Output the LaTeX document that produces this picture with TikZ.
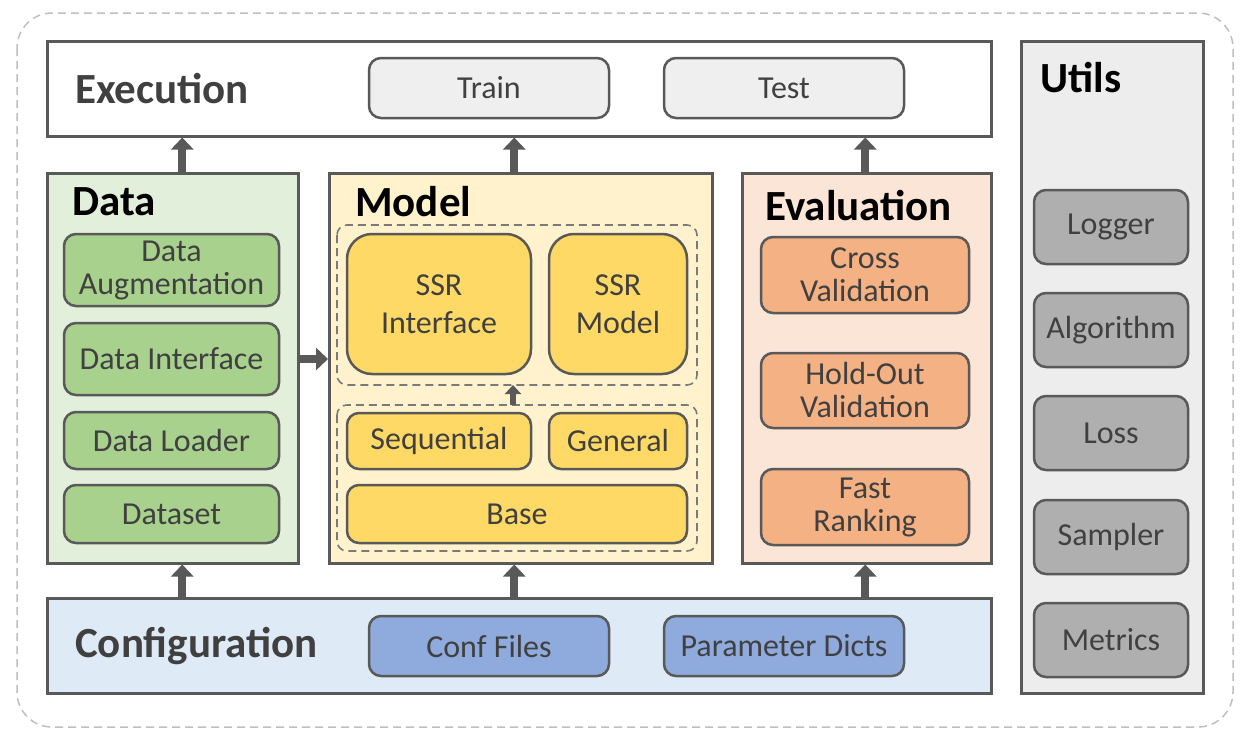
\documentclass[tikz,border=0pt]{standalone}
\usepackage{fontspec}
\setmainfont{Carlito}
\usetikzlibrary{arrows.meta,positioning}
\definecolor{edge}{HTML}{595959}
\definecolor{txt}{HTML}{404040}
\definecolor{datab}{HTML}{E2EFDA}
\definecolor{datai}{HTML}{A9D18E}
\definecolor{modelb}{HTML}{FFF2CC}
\definecolor{modeli}{HTML}{FFD966}
\definecolor{evalb}{HTML}{FBE5D6}
\definecolor{evali}{HTML}{F4B183}
\definecolor{confb}{HTML}{DEEBF7}
\definecolor{confi}{HTML}{8FAADC}
\definecolor{utilb}{HTML}{EDEDED}
\definecolor{utili}{HTML}{AFAFAF}
\definecolor{execi}{HTML}{EFEFEF}
\tikzset{
  panel/.style={draw=edge, line width=2.5pt, anchor=north west, inner sep=0pt},
  item/.style={draw=edge, line width=2.5pt, rounded corners=12pt, text=txt,
    font=\fontsize{32}{33}\selectfont, align=center, inner sep=0pt},
  title/.style={font=\fontsize{43}{46}\selectfont\bfseries, anchor=west, inner sep=0pt},
  uparrow/.style={draw=edge, line width=8pt, -{Triangle[width=22pt,length=12pt]}},
  group/.style={draw=edge!80, dash pattern=on 8pt off 5pt, line width=1.6pt, rounded corners=10pt}
}
\begin{document}
\begin{tikzpicture}[x=1pt,y=-1pt]
\useasboundingbox (0,0) rectangle (1251,742);
\draw[draw=black!25, dash pattern=on 8pt off 5pt, line width=1.5pt, rounded corners=35pt]
  (17,13) rectangle (1233,727);

% execution layer
\node[panel, fill=white, minimum width=944, minimum height=95] (exec) at (46,40) {};
\node[title, text=txt] (exectitle) at (75,89) {Execution};
\node[item, fill=execi, minimum width=240, minimum height=60] (train) at (489,88) {Train};
\node[item, fill=execi, minimum width=240, minimum height=60] (test) at (784,88) {Test};

% data
\node[panel, fill=datab, minimum width=251, minimum height=390] (data) at (46,172) {};
\node[title] (datatitle) at (72,202) {Data};
\node[item, fill=datai, minimum width=215, minimum height=72] (aug) at (171.5,270) {Data\\Augmentation};
\node[item, fill=datai, minimum width=215, minimum height=72] (dint) at (171.5,359) {Data Interface};
\node[item, fill=datai, minimum width=215, minimum height=57] (loader) at (171.5,440.5) {Data Loader};
\node[item, fill=datai, minimum width=215, minimum height=58] (dset) at (171.5,514) {Dataset};

% model
\node[panel, fill=modelb, minimum width=383, minimum height=390] (model) at (328,172) {};
\node[title] (modeltitle) at (355,202) {Model};
\draw[group] (337,225) rectangle (697,385);
\draw[group] (337,405) rectangle (697,551);
\node[item, fill=modeli, rounded corners=25pt, minimum width=184, minimum height=140] (ssri) at (439,304) {SSR\\[5pt]Interface};
\node[item, fill=modeli, rounded corners=25pt, minimum width=138, minimum height=140] (ssrm) at (618,304) {SSR\\[5pt]Model};
\node[item, fill=modeli, minimum width=184, minimum height=56] (seq) at (439,441) {Sequential};
\node[item, fill=modeli, minimum width=138, minimum height=56] (gen) at (618,441) {General};
\node[item, fill=modeli, minimum width=340, minimum height=58] (base) at (517,514) {Base};
\coordinate (grouptop) at (513,385);
\draw[draw=edge, line width=6pt, -{Triangle[width=16pt,length=9pt]}] (513,405) -- (grouptop);

% evaluation
\node[panel, fill=evalb, minimum width=249, minimum height=390] (eval) at (741,172) {};
\node[title] (evaltitle) at (765,206) {Evaluation};
\node[item, fill=evali, minimum width=208, minimum height=76] (cross) at (865,275) {Cross\\Validation};
\node[item, fill=evali, minimum width=208, minimum height=75] (hold) at (865,390.5) {Hold-Out\\Validation};
\node[item, fill=evali, minimum width=208, minimum height=76] (fast) at (865,507) {Fast\\Ranking};

% configuration
\node[panel, fill=confb, minimum width=944, minimum height=95] (conf) at (46,597) {};
\node[title, text=txt] (conftitle) at (75,646) {Configuration};
\node[item, fill=confi, minimum width=240, minimum height=60] (files) at (489,646) {Conf Files};
\node[item, fill=confi, minimum width=240, minimum height=60] (dicts) at (784,646) {Parameter Dicts};

% utils
\node[panel, fill=utilb, minimum width=182, minimum height=652] (utils) at (1020,40) {};
\node[title] (utilstitle) at (1040,78) {Utils};
\node[item, fill=utili, minimum width=154, minimum height=74] (logger) at (1111,227) {Logger};
\node[item, fill=utili, minimum width=154, minimum height=74] (algo) at (1111,330) {Algorithm};
\node[item, fill=utili, minimum width=154, minimum height=74] (loss) at (1111,433) {Loss};
\node[item, fill=utili, minimum width=154, minimum height=74] (sampler) at (1111,537) {Sampler};
\node[item, fill=utili, minimum width=154, minimum height=74] (metrics) at (1111,640) {Metrics};

% arrows
\draw[uparrow] ([xshift=9.5pt]data.north) -- ([xshift=9.5pt]data.north |- exec.south);
\draw[uparrow] ([xshift=-6.5pt]model.north) -- ([xshift=-6.5pt]model.north |- exec.south);
\draw[uparrow] ([xshift=-1.5pt]eval.north) -- ([xshift=-1.5pt]eval.north |- exec.south);
\draw[uparrow] ([xshift=9.5pt]data.north |- conf.north) -- ([xshift=9.5pt]data.south);
\draw[uparrow] ([xshift=-6.5pt]model.north |- conf.north) -- ([xshift=-6.5pt]model.south);
\draw[uparrow] ([xshift=-1.5pt]eval.north |- conf.north) -- ([xshift=-1.5pt]eval.south);
\draw[uparrow] (data.east |- dint) -- (model.west |- dint);
\end{tikzpicture}
\end{document}
